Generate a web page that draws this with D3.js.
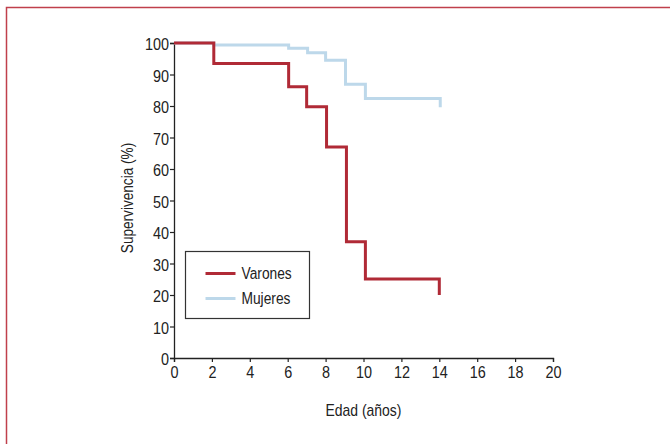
<!DOCTYPE html>
<html>
<head>
<meta charset="utf-8">
<script src="https://cdn.jsdelivr.net/npm/d3@7"></script>
<style>
  body { margin: 0; background: #fff; }
  text { font-family: "Liberation Sans", Arial, sans-serif; fill: #222; }
</style>
</head>
<body>
<div class="chart"></div>
<script>
var svgWidth = 670;
var svgHeight = 444;

var margin = { top: 43, right: 117, bottom: 86, left: 174 };
var width = svgWidth - margin.left - margin.right;
var height = svgHeight - margin.top - margin.bottom;

// step data: time (years) and survival (%)
var varonesX = [0, 2.1, 6.05, 7.0, 8.05, 9.1, 10.1, 14.0, 14.0];
var varonesY = [100, 93.5, 86.1, 79.8, 67, 36.9, 25.1, 25.1, 20];
var mujeresX = [0, 2.1, 6.05, 7.05, 8.0, 9.05, 10.1, 14.05, 14.05];
var mujeresY = [100, 99.4, 98.3, 96.9, 94.5, 86.9, 82.4, 82.4, 79.6];

var xTicks = [0, 2, 4, 6, 8, 10, 12, 14, 16, 18, 20];
var yTicks = [0, 10, 20, 30, 40, 50, 60, 70, 80, 90, 100];

var seriesNames = ["Varones", "Mujeres"];
var seriesColors = ["#b02a36", "#bdd8ea"];

// squeeze a text horizontally to fake a condensed face
function condense(sel, factor) {
    sel.each(function() {
        var w = this.getComputedTextLength();
        d3.select(this)
            .attr("textLength", w * factor)
            .attr("lengthAdjust", "spacingAndGlyphs");
    });
}

var svg = d3.select(".chart")
    .append("svg")
    .attr("width", svgWidth)
    .attr("height", svgHeight);

// outer frame
svg.append("path")
    .attr("d", "M6.5," + (svgHeight + 5) + " L6.5,7.5 L" + (svgWidth + 5) + ",7.5")
    .attr("fill", "none")
    .attr("stroke", "#c0404b")
    .attr("stroke-width", 1.5);

var chartGroup = svg.append("g")
    .attr("transform", `translate(${margin.left}, ${margin.top})`);

var x = d3.scaleLinear().domain([0, 20]).range([0, width]);
var y = d3.scaleLinear().domain([0, 100]).range([height, 0]);

var bottomAxis = d3.axisBottom(x).tickValues(xTicks).tickSize(4).tickPadding(5);
var leftAxis = d3.axisLeft(y).tickValues(yTicks).tickSize(4).tickPadding(1);

var gx = chartGroup.append("g")
    .attr("transform", `translate(0, ${height})`)
    .call(bottomAxis);
var gy = chartGroup.append("g").call(leftAxis);

[gx, gy].forEach(function(g) {
    g.attr("font-size", 16).attr("font-family", null);
    g.select(".domain").attr("stroke", "#222").attr("stroke-width", 1.3);
    g.selectAll(".tick line").attr("stroke", "#222").attr("stroke-width", 1.2);
    g.selectAll(".tick text")
        .style("font-size", "16px")
        .attr("fill", "#222")
        .call(condense, 0.9);
});
gy.selectAll(".tick text").attr("dy", "0.42em");

// survival step lines
function stepData(xs, ys) {
    return xs.map(function(v, i) { return [v, ys[i]]; });
}
var line = d3.line()
    .x(d => x(d[0]))
    .y(d => y(d[1]))
    .curve(d3.curveStepAfter);

chartGroup.append("path")
    .datum(stepData(mujeresX, mujeresY))
    .attr("d", line)
    .attr("fill", "none")
    .attr("stroke", seriesColors[1])
    .attr("stroke-width", 3);

chartGroup.append("path")
    .datum(stepData(varonesX, varonesY))
    .attr("d", line)
    .attr("fill", "none")
    .attr("stroke", seriesColors[0])
    .attr("stroke-width", 3);

// legend
var legend = svg.append("g").attr("transform", "translate(185.5, 251.5)");
legend.append("rect")
    .attr("width", 124)
    .attr("height", 67)
    .attr("fill", "#fff")
    .attr("stroke", "#333")
    .attr("stroke-width", 1.2);

seriesNames.forEach(function(name, i) {
    legend.append("line")
        .attr("x1", 20).attr("x2", 50)
        .attr("y1", 22 + i * 25).attr("y2", 22 + i * 25)
        .attr("stroke", seriesColors[i])
        .attr("stroke-width", 3);
    legend.append("text")
        .attr("x", 56)
        .attr("y", 27.5 + i * 25)
        .style("font-size", "16px")
        .text(name)
        .call(condense, 0.86);
});

// axis titles
chartGroup.append("text")
    .attr("transform", "rotate(-90)")
    .attr("x", 0 - 155)
    .attr("y", 0 - margin.left + 133)
    .attr("text-anchor", "middle")
    .style("font-size", "16px")
    .text("Supervivencia (%)")
    .call(condense, 0.85);

chartGroup.append("text")
    .attr("x", width / 2)
    .attr("y", height + 58)
    .attr("text-anchor", "middle")
    .style("font-size", "17px")
    .text("Edad (años)")
    .call(condense, 0.82);
</script>
</body>
</html>
